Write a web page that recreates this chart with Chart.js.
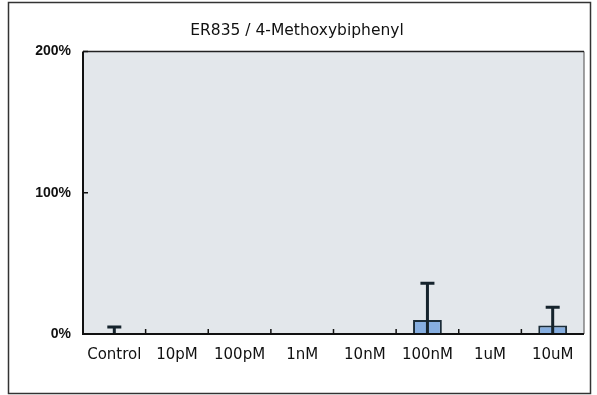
<!DOCTYPE html>
<html>
<head>
<meta charset="utf-8">
<script src="https://cdn.jsdelivr.net/npm/chart.js@4.4.1/dist/chart.umd.min.js"></script>
<style>
html,body{margin:0;padding:0;background:#fff;}
#wrap{width:597px;height:395px;position:relative;}
</style>
</head>
<body>
<div id="wrap"><canvas id="c" width="597" height="395"></canvas></div>
<script>
const chartTitle = "ER835 / 4-Methoxybiphenyl";
const categories = ["Control","10pM","100pM","1nM","10nM","100nM","1uM","10uM"];
const values = [0, null, null, null, null, 10, null, 6];
const errorTops = [5, null, null, null, null, 36, null, 19];
const yTicks = [0, 100, 200];

const FONT = "'DejaVu Sans', sans-serif";

const framePlugin = {
  id: 'frame',
  beforeDraw(chart) {
    const {ctx, chartArea: a} = chart;
    ctx.save();
    ctx.fillStyle = '#e3e7eb';
    ctx.fillRect(a.left, a.top, a.right - a.left, a.bottom - a.top);
    ctx.restore();
  },
  afterDraw(chart) {
    const {ctx, chartArea: a, scales} = chart;
    ctx.save();
    ctx.strokeStyle = '#333';
    ctx.lineWidth = 1.5;
    ctx.strokeRect(8.5, 2.5, 582, 391);
    ctx.strokeStyle = '#666';
    ctx.lineWidth = 1.2;
    ctx.beginPath();
    ctx.moveTo(a.right, a.top); ctx.lineTo(a.right, a.bottom);
    ctx.stroke();
    ctx.strokeStyle = '#222';
    ctx.lineWidth = 1.5;
    ctx.beginPath();
    ctx.moveTo(a.left, a.top); ctx.lineTo(a.right, a.top);
    ctx.stroke();
    ctx.strokeStyle = '#111';
    ctx.lineWidth = 2;
    ctx.beginPath();
    ctx.moveTo(a.left, a.top); ctx.lineTo(a.left, a.bottom); ctx.lineTo(a.right, a.bottom);
    ctx.stroke();
    const x = scales.x;
    ctx.lineWidth = 1.5;
    ctx.beginPath();
    for (let i = 1; i < categories.length; i++) {
      const px = (x.getPixelForValue(i - 1) + x.getPixelForValue(i)) / 2;
      ctx.moveTo(px, a.bottom); ctx.lineTo(px, a.bottom - 5);
    }
    const y = scales.y;
    yTicks.forEach(v => {
      const py = y.getPixelForValue(v);
      ctx.moveTo(a.left, py); ctx.lineTo(a.left + 5, py);
    });
    ctx.stroke();
    ctx.restore();
  }
};

const errorPlugin = {
  id: 'errbars',
  afterDatasetsDraw(chart) {
    const {ctx, scales} = chart;
    const meta = chart.getDatasetMeta(0);
    ctx.save();
    ctx.strokeStyle = '#15232c';
    ctx.lineWidth = 3;
    meta.data.forEach((bar, i) => {
      if (errorTops[i] == null) return;
      const px = bar.x;
      const base = scales.y.getPixelForValue(0);
      const top = scales.y.getPixelForValue(errorTops[i]);
      ctx.beginPath();
      ctx.moveTo(px, base); ctx.lineTo(px, top);
      ctx.moveTo(px - 7, top); ctx.lineTo(px + 7, top);
      ctx.stroke();
    });
    ctx.restore();
  }
};

new Chart(document.getElementById('c'), {
  type: 'bar',
  data: {
    labels: categories,
    datasets: [{
      data: values,
      backgroundColor: '#86aee0',
      borderColor: '#1b2c38',
      borderWidth: 2,
      barPercentage: 0.46,
      categoryPercentage: 1.0
    }]
  },
  options: {
    responsive: false,
    animation: false,
    devicePixelRatio: 1,
    layout: { padding: { left: 10, right: 13, top: 0, bottom: 0 } },
    plugins: {
      legend: { display: false },
      tooltip: { enabled: false },
      title: {
        display: true,
        text: chartTitle,
        color: '#111',
        font: { family: FONT, size: 15.5, weight: 'normal' },
        padding: { top: 22, bottom: 11 }
      }
    },
    scales: {
      x: {
        grid: { display: false, drawTicks: false },
        border: { display: false },
        ticks: { color: '#111', font: { family: FONT, size: 15 }, padding: 12, maxRotation: 0, autoSkip: false },
        afterFit(s) { s.height = 61; }
      },
      y: {
        min: 0, max: 200,
        afterBuildTicks(s) { s.ticks = yTicks.map(v => ({value: v})); },
        grid: { display: false, drawTicks: false },
        border: { display: false },
        ticks: { color: '#111', font: { family: "'Liberation Sans', sans-serif", size: 14, weight: 'bold' }, padding: 12, callback: v => v + '%' },
        afterFit(s) { s.width = 73; }
      }
    }
  },
  plugins: [framePlugin, errorPlugin]
});
</script>
</body>
</html>
